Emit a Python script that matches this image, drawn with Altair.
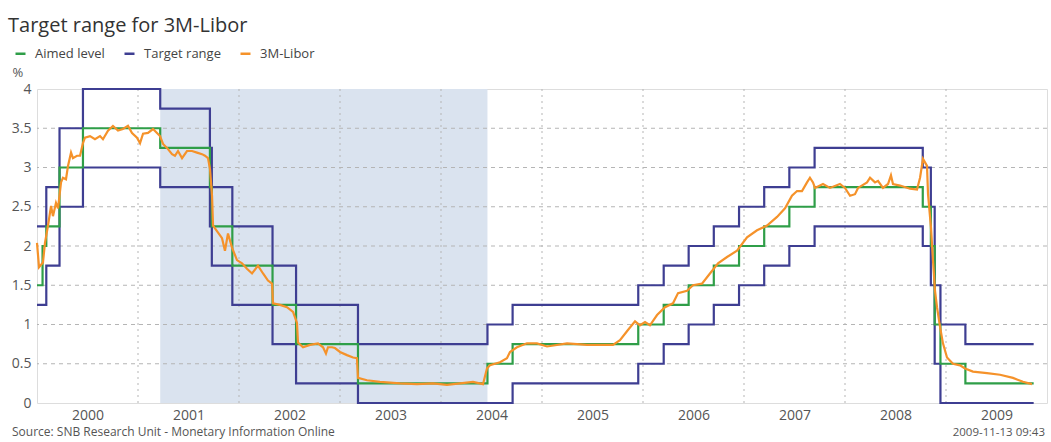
import altair as alt
import pandas as pd

FONT = "Open Sans"

title_text = "Target range for 3M-Libor"
source_text = "Source: SNB Research Unit - Monetary Information Online"
stamp_text = "2009-11-13 09:43"

series_names = ["Aimed level", "Target range", "3M-Libor"]
series_colors = ["#2f9e48", "#3e3e92", "#f5922a"]

# SNB target range (decimal years where a new range starts)
range_t = [2000.000, 2000.092, 2000.223, 2000.455, 2001.220, 2001.712, 2001.731,
           2001.934, 2002.332, 2002.565, 2003.178, 2004.460, 2004.709, 2005.953,
           2006.205, 2006.452, 2006.701, 2006.951, 2007.200, 2007.449, 2007.699,
           2008.770, 2008.850, 2008.888, 2008.945, 2009.192, 2009.868]
range_upper = [2.25, 2.75, 3.5, 4.0, 3.75, 3.25, 2.75, 2.25, 1.75, 1.25, 0.75, 1.0,
               1.25, 1.5, 1.75, 2.0, 2.25, 2.5, 2.75, 3.0, 3.25, 3.0, 2.5, 1.5, 1.0,
               0.75, 0.75]
range_lower = [1.25, 1.75, 2.5, 3.0, 2.75, 2.25, 1.75, 1.25, 0.75, 0.25, 0.0, 0.0,
               0.25, 0.5, 0.75, 1.0, 1.25, 1.5, 1.75, 2.0, 2.25, 2.0, 1.5, 0.5, 0.0,
               0.0, 0.0]

# Aimed level
aimed_t = [2000.000, 2000.055, 2000.092, 2000.223, 2000.455, 2001.220, 2001.712,
           2001.731, 2001.934, 2002.332, 2002.565, 2003.178, 2004.460, 2004.709,
           2005.953, 2006.205, 2006.452, 2006.701, 2006.951, 2007.200, 2007.449,
           2007.699, 2008.770, 2008.850, 2008.888, 2008.945, 2009.192, 2009.868]
aimed_level = [1.5, 2.0, 2.25, 3.0, 3.5, 3.25, 2.75, 2.25, 1.75, 1.25, 0.75, 0.25,
               0.5, 0.75, 1.0, 1.25, 1.5, 1.75, 2.0, 2.25, 2.5, 2.75, 2.5, 2.0, 1.0,
               0.5, 0.25, 0.25]

# 3M-Libor
libor_t = [2000.000, 2000.020, 2000.059, 2000.079, 2000.109, 2000.139, 2000.158,
           2000.188, 2000.208, 2000.238, 2000.257, 2000.287, 2000.307, 2000.337,
           2000.356, 2000.396, 2000.426, 2000.455, 2000.475, 2000.525, 2000.574,
           2000.624, 2000.653, 2000.703, 2000.752, 2000.802, 2000.851, 2000.901,
           2000.941, 2000.990, 2001.020, 2001.050, 2001.099, 2001.149, 2001.188,
           2001.218, 2001.248, 2001.287, 2001.337, 2001.366, 2001.396, 2001.436,
           2001.485, 2001.535, 2001.584, 2001.634, 2001.663, 2001.693, 2001.713,
           2001.733, 2001.743, 2001.782, 2001.832, 2001.861, 2001.891, 2001.931,
           2001.980, 2002.030, 2002.079, 2002.129, 2002.188, 2002.238, 2002.287,
           2002.327, 2002.337, 2002.406, 2002.475, 2002.535, 2002.574, 2002.584,
           2002.634, 2002.703, 2002.782, 2002.832, 2002.861, 2002.881, 2002.921,
           2002.950, 2003.000, 2003.069, 2003.129, 2003.168, 2003.178, 2003.267,
           2003.396, 2003.594, 2003.762, 2003.921, 2004.059, 2004.188, 2004.317,
           2004.416, 2004.455, 2004.485, 2004.584, 2004.653, 2004.683, 2004.752,
           2004.851, 2004.950, 2005.050, 2005.248, 2005.446, 2005.703, 2005.772,
           2005.851, 2005.921, 2005.970, 2006.020, 2006.069, 2006.139, 2006.218,
           2006.297, 2006.347, 2006.436, 2006.495, 2006.584, 2006.663, 2006.743,
           2006.832, 2006.931, 2007.030, 2007.129, 2007.228, 2007.327, 2007.406,
           2007.475, 2007.525, 2007.574, 2007.624, 2007.653, 2007.683, 2007.703,
           2007.782, 2007.851, 2007.950, 2008.000, 2008.050, 2008.099, 2008.129,
           2008.218, 2008.248, 2008.297, 2008.327, 2008.376, 2008.426, 2008.455,
           2008.475, 2008.545, 2008.644, 2008.713, 2008.743, 2008.772, 2008.812,
           2008.822, 2008.851, 2008.871, 2008.891, 2008.911, 2008.941, 2008.970,
           2009.010, 2009.069, 2009.139, 2009.188, 2009.267, 2009.406, 2009.535,
           2009.663, 2009.762, 2009.851]
libor_v = [2.04, 1.73, 1.79, 2.04, 2.26, 2.51, 2.38, 2.55, 2.48, 2.81, 2.87, 2.85,
           3.02, 3.19, 3.12, 3.15, 3.15, 3.31, 3.38, 3.40, 3.36, 3.40, 3.36, 3.47,
           3.53, 3.47, 3.49, 3.53, 3.44, 3.38, 3.31, 3.43, 3.44, 3.49, 3.44, 3.40,
           3.30, 3.25, 3.17, 3.15, 3.21, 3.12, 3.21, 3.21, 3.19, 3.17, 3.15, 3.12,
           2.98, 2.64, 2.26, 2.19, 2.10, 1.94, 2.16, 1.98, 1.82, 1.78, 1.71, 1.65,
           1.75, 1.65, 1.56, 1.52, 1.27, 1.25, 1.22, 1.16, 1.02, 0.77, 0.71, 0.74,
           0.76, 0.71, 0.63, 0.71, 0.71, 0.70, 0.65, 0.61, 0.58, 0.57, 0.32, 0.29,
           0.27, 0.25, 0.24, 0.25, 0.23, 0.25, 0.27, 0.24, 0.44, 0.48, 0.52, 0.57,
           0.65, 0.71, 0.76, 0.76, 0.72, 0.76, 0.74, 0.74, 0.80, 0.93, 1.04, 0.99,
           1.03, 0.99, 1.12, 1.22, 1.27, 1.40, 1.43, 1.50, 1.52, 1.65, 1.78, 1.86,
           1.94, 2.11, 2.20, 2.26, 2.37, 2.48, 2.64, 2.70, 2.70, 2.81, 2.87, 2.81,
           2.74, 2.79, 2.74, 2.79, 2.74, 2.64, 2.66, 2.74, 2.81, 2.87, 2.81, 2.83,
           2.74, 2.79, 2.90, 2.79, 2.77, 2.73, 2.72, 2.87, 3.11, 3.02, 2.66, 2.24,
           1.82, 1.43, 1.22, 0.97, 0.76, 0.58, 0.50, 0.48, 0.44, 0.40, 0.38, 0.36,
           0.32, 0.27, 0.24]

shade_start, shade_end = 2001.220, 2004.460
grid_years = [2001, 2002, 2003, 2004, 2005, 2006, 2007, 2008, 2009]
grid_levels = [0.5, 1.0, 1.5, 2.0, 2.5, 3.0, 3.5]
label_positions = [2000.5, 2001.5, 2002.5, 2003.5, 2004.5, 2005.5, 2006.5,
                   2007.5, 2008.5, 2009.5]
y_values = [0, 0.5, 1, 1.5, 2, 2.5, 3, 3.5, 4]

W, H = 1010, 314

range_df = pd.concat([
    pd.DataFrame({"t": range_t, "v": range_upper, "part": "upper", "series": "Target range"}),
    pd.DataFrame({"t": range_t, "v": range_lower, "part": "lower", "series": "Target range"}),
])
aimed_df = pd.DataFrame({"t": aimed_t, "v": aimed_level, "series": "Aimed level"})
libor_df = pd.DataFrame({"t": libor_t, "v": libor_v, "series": "3M-Libor"})
shade_df = pd.DataFrame({"start": [shade_start], "end": [shade_end], "lo": [0], "hi": [4]})
vgrid_df = pd.DataFrame({"year": grid_years})
hgrid_df = pd.DataFrame({"level": grid_levels})
footer_df = pd.DataFrame({"left": [source_text], "right": [stamp_text]})

xscale = alt.Scale(domain=[2000, 2010], nice=False, zero=False)
yscale = alt.Scale(domain=[0, 4], nice=False)
cscale = alt.Scale(domain=series_names, range=series_colors)

xaxis = alt.Axis(values=label_positions, labelExpr="floor(datum.value)", ticks=False,
                 domain=False, grid=False, labelFontSize=14, labelColor="#555",
                 labelFont=FONT, labelPadding=5, title=None, labelOverlap=False)
yaxis = alt.Axis(values=y_values,
                 labelExpr="datum.value % 1 == 0 ? format(datum.value, 'd') : format(datum.value, '.1f')",
                 ticks=False, domain=False, grid=False,
                 labelFontSize=14, labelColor="#555", labelFont=FONT, labelPadding=6,
                 labelOverlap=False, labelBound=False,
                 title="%", titleAngle=0, titleAlign="left", titleBaseline="alphabetic",
                 titleX=-25, titleY=-13, titleFontSize=13, titleFontWeight="normal",
                 titleColor="#555", titleFont=FONT)

legend = alt.Legend(title=None, orient="none", legendX=-23, legendY=-42,
                    direction="horizontal", symbolType="stroke", symbolSize=100,
                    symbolStrokeWidth=2.5, labelFontSize=13, labelColor="#444",
                    labelFont=FONT, columnPadding=14, labelOffset=8, padding=0)


def X(field):
    return alt.X(field, scale=xscale, axis=xaxis, title=None)


def Y(field):
    return alt.Y(field, scale=yscale, axis=yaxis)


shade = alt.Chart(shade_df).mark_rect(color="#dae3ef").encode(
    x=X("start:Q"), x2="end:Q", y=Y("lo:Q"), y2="hi:Q",
)

hgrid = alt.Chart(hgrid_df).mark_rule(color="#b5b5b5", strokeDash=[4, 4], strokeWidth=1).encode(
    y=Y("level:Q")
)
vgrid = alt.Chart(vgrid_df).mark_rule(color="#b5b5b5", strokeDash=[2, 4], strokeWidth=1).encode(
    x=X("year:Q")
)

color_enc = alt.Color("series:N", scale=cscale, legend=legend)

range_layer = alt.Chart(range_df).mark_line(interpolate="step-after", strokeWidth=2.2).encode(
    x=X("t:Q"), y=Y("v:Q"), color=color_enc, detail="part:N"
)
aimed_layer = alt.Chart(aimed_df).mark_line(interpolate="step-after", strokeWidth=2.2).encode(
    x=X("t:Q"), y=Y("v:Q"), color=color_enc
)
libor_layer = alt.Chart(libor_df).mark_line(strokeWidth=2.2).encode(
    x=X("t:Q"), y=Y("v:Q"), color=color_enc
)

footer_left = alt.Chart(footer_df).mark_text(
    align="left", baseline="alphabetic", fontSize=12, color="#555", font=FONT
).encode(x=alt.value(-25), y=alt.value(H + 33), text="left:N")
footer_right = alt.Chart(footer_df).mark_text(
    align="right", baseline="alphabetic", fontSize=11.5, color="#555", font=FONT
).encode(x=alt.value(W - 2), y=alt.value(H + 33), text="right:N")

chart = alt.layer(
    shade, hgrid, vgrid, range_layer, aimed_layer, libor_layer, footer_left, footer_right
).properties(
    width=W, height=H,
    padding={"left": 37, "top": 89, "right": 4, "bottom": 39},
    autosize=alt.AutoSizeParams(type="none"),
    title=alt.TitleParams(title_text, anchor="start", frame="group", fontSize=20,
                          fontWeight="normal", color="#333", font=FONT, dx=-29,
                          offset=8, dy=13, baseline="alphabetic"),
).configure_view(stroke="#9a9a9a", strokeWidth=1).configure_axis(
    labelOverlap=False
).configure(background="white")

chart.save("out.html", embed_options={"renderer": "svg", "actions": False})
